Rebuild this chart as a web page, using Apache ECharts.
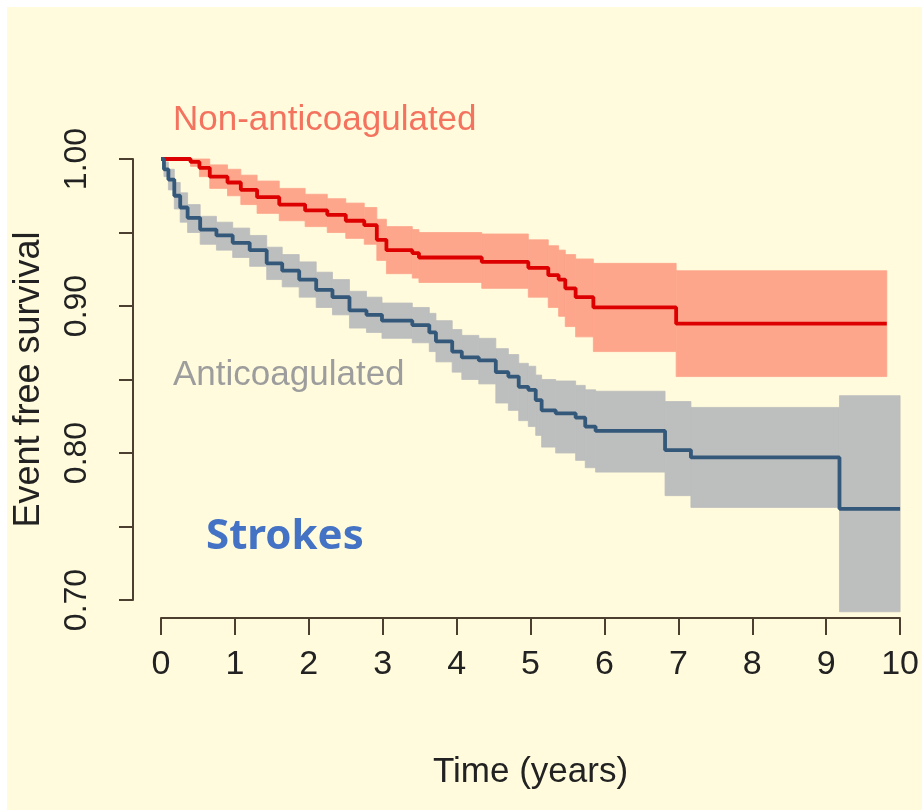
<!DOCTYPE html>
<html>
<head>
<meta charset="utf-8">
<script src="https://cdn.jsdelivr.net/npm/echarts@6/dist/echarts.min.js"></script>
<style>
  html, body { margin: 0; padding: 0; background: #fff; }
  #chart { width: 922px; height: 810px; }
</style>
</head>
<body>
<div id="chart"></div>
<script>
// Kaplan-Meier steps (time in years, event free survival)
const timeNon = [0, 0.40, 0.52, 0.66, 0.90, 1.08, 1.30, 1.60, 1.95, 2.25, 2.50, 2.75, 2.92, 3.05, 3.40, 3.49, 4.34, 4.97, 5.24, 5.38, 5.47, 5.61, 5.85, 6.97, 9.82];
const survNon = [1.000, 0.998, 0.994, 0.988, 0.984, 0.979, 0.974, 0.969, 0.965, 0.962, 0.958, 0.955, 0.945, 0.938, 0.936, 0.933, 0.930, 0.926, 0.921, 0.918, 0.912, 0.906, 0.899, 0.888, 0.888];
const upperNon = [1.000, 1.000, 1.000, 0.996, 0.993, 0.989, 0.985, 0.980, 0.976, 0.973, 0.970, 0.967, 0.959, 0.954, 0.952, 0.950, 0.949, 0.945, 0.941, 0.938, 0.935, 0.932, 0.929, 0.924, 0.924];
const lowerNon = [1.000, 0.995, 0.988, 0.980, 0.975, 0.969, 0.963, 0.958, 0.954, 0.950, 0.946, 0.942, 0.931, 0.922, 0.919, 0.916, 0.912, 0.906, 0.899, 0.893, 0.886, 0.879, 0.869, 0.852, 0.852];

const timeAnti = [0, 0.04, 0.10, 0.18, 0.26, 0.36, 0.53, 0.75, 0.97, 1.20, 1.43, 1.64, 1.87, 2.10, 2.32, 2.55, 2.78, 2.99, 3.40, 3.63, 3.72, 3.94, 4.07, 4.30, 4.53, 4.70, 4.84, 4.97, 5.07, 5.15, 5.34, 5.61, 5.74, 5.88, 6.82, 7.17, 9.18, 10.0];
const survAnti = [1.000, 0.993, 0.986, 0.975, 0.967, 0.960, 0.952, 0.948, 0.943, 0.938, 0.929, 0.924, 0.918, 0.911, 0.906, 0.897, 0.894, 0.890, 0.887, 0.882, 0.876, 0.869, 0.865, 0.863, 0.855, 0.852, 0.845, 0.843, 0.836, 0.829, 0.827, 0.824, 0.818, 0.815, 0.802, 0.797, 0.762, 0.762];
const upperAnti = [1.000, 0.998, 0.993, 0.984, 0.977, 0.969, 0.961, 0.957, 0.953, 0.948, 0.940, 0.935, 0.930, 0.923, 0.918, 0.910, 0.906, 0.902, 0.899, 0.895, 0.890, 0.884, 0.880, 0.878, 0.871, 0.867, 0.861, 0.859, 0.853, 0.850, 0.849, 0.846, 0.843, 0.842, 0.835, 0.831, 0.839, 0.839];
const lowerAnti = [1.000, 0.988, 0.979, 0.966, 0.957, 0.950, 0.942, 0.938, 0.933, 0.927, 0.918, 0.913, 0.906, 0.899, 0.894, 0.885, 0.882, 0.878, 0.875, 0.869, 0.862, 0.855, 0.850, 0.847, 0.834, 0.829, 0.822, 0.818, 0.812, 0.804, 0.800, 0.795, 0.790, 0.787, 0.771, 0.763, 0.692, 0.692];

const xTicks = [0, 10, 1];          // min, max, interval
const yTicks = [0.70, 1.00, 0.05];

function steps(t, s) {
  return t.map((v, i) => [v, s[i]]);
}

// one rect per step of the confidence band: [t_i, t_i+1, lower, upper]
function bandRows(t, lo, up) {
  let rows = [];
  for (let i = 0; i < t.length - 1; i++) {
    rows.push([t[i], t[i + 1], lo[i], up[i]]);
  }
  return rows;
}

function bandSeries(rows, color) {
  return {
    type: "custom",
    clip: false,
    silent: true,
    encode: { x: [0, 1], y: [2, 3] },
    data: rows,
    renderItem: function (params, api) {
      let p0 = api.coord([api.value(0), api.value(3)]);
      let p1 = api.coord([api.value(1), api.value(2)]);
      return {
        type: "rect",
        shape: { x: p0[0], y: p0[1], width: p1[0] - p0[0], height: p1[1] - p0[1] },
        style: { fill: color, stroke: color, lineWidth: 0.8 }
      };
    }
  };
}

function lineSeries(data, color) {
  return {
    type: "line",
    step: "end",
    clip: false,
    symbol: "none",
    silent: true,
    lineStyle: { color: color, width: 3.8 },
    data: data
  };
}

const axisColor = "#4d3f2f";
const font = "Liberation Sans";

let myChart = echarts.init(document.getElementById("chart"));
myChart.setOption({
  backgroundColor: "#fffbdc",
  animation: false,
  grid: { left: 161, right: 19, top: 159, bottom: 210 },
  xAxis: {
    type: "value",
    min: xTicks[0],
    max: xTicks[1],
    interval: xTicks[2],
    offset: 18,
    splitLine: { show: false },
    axisLine: { onZero: false, lineStyle: { color: axisColor, width: 2 } },
    axisTick: { length: 17, lineStyle: { color: axisColor, width: 2 } },
    axisLabel: { margin: 30, fontSize: 34, fontFamily: font, color: "#222" },
    name: "Time (years)",
    nameLocation: "middle",
    nameGap: 137,
    nameTextStyle: { fontSize: 35, fontFamily: font, color: "#222" }
  },
  yAxis: {
    type: "value",
    min: yTicks[0],
    max: yTicks[1],
    interval: yTicks[2],
    offset: 28,
    splitLine: { show: false },
    axisLine: { onZero: false, lineStyle: { color: axisColor, width: 2 } },
    axisTick: { length: 14, lineStyle: { color: axisColor, width: 2 } },
    axisLabel: {
      rotate: 90,
      margin: 40,
      fontSize: 32,
      fontFamily: font,
      color: "#222",
      formatter: function (v) {
        let k = Math.round(v * 100);
        return k % 10 === 0 ? (k / 100).toFixed(2) : "";
      }
    },
    name: "Event free survival",
    nameLocation: "middle",
    nameGap: 86,
    nameTextStyle: { fontSize: 36, fontFamily: font, color: "#222" }
  },
  graphic: [
    { type: "rect", shape: { x: 0, y: 0, width: 7, height: 810 }, style: { fill: "#fff" } },
    { type: "rect", shape: { x: 0, y: 0, width: 922, height: 7 }, style: { fill: "#fff" } },
    {
      type: "text", x: 173, y: 120,
      style: { text: "Non-anticoagulated", fill: "#f3735f", font: '35px "Liberation Sans"', verticalAlign: "middle" }
    },
    {
      type: "text", x: 173, y: 375,
      style: { text: "Anticoagulated", fill: "#9d9d9d", font: '35px "Liberation Sans"', verticalAlign: "middle" }
    },
    {
      type: "text", x: 206, y: 537,
      style: { text: "Strokes", fill: "#4472c4", font: 'bold 42px "Noto Sans"', verticalAlign: "middle" }
    }
  ],
  series: [
    bandSeries(bandRows(timeNon, lowerNon, upperNon), "#fda68c"),
    bandSeries(bandRows(timeAnti, lowerAnti, upperAnti), "#bdbebe"),
    lineSeries(steps(timeNon, survNon), "#dd0000"),
    lineSeries(steps(timeAnti, survAnti), "#33587a")
  ]
});
</script>
</body>
</html>
